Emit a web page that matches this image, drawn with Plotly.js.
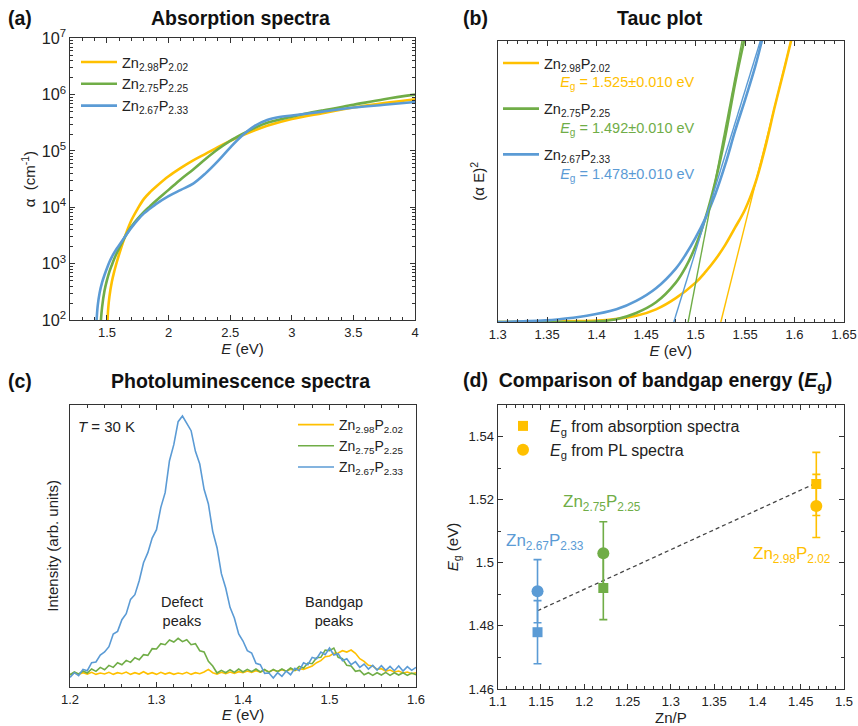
<!DOCTYPE html>
<html>
<head>
<meta charset="utf-8">
<script src="https://cdn.plot.ly/plotly-3.0.1.min.js"></script>
<style>html,body{margin:0;padding:0;background:#fff;}#chart{width:858px;height:726px;}</style>
</head>
<body>
<div id="chart"></div>
<script>
// ---------- colours / names ----------
const COLORS = ['#FFC000', '#70AD47', '#5B9BD5'];
const SAMPLES = ['Zn<sub>2.98</sub>P<sub>2.02</sub>', 'Zn<sub>2.75</sub>P<sub>2.25</sub>', 'Zn<sub>2.67</sub>P<sub>2.33</sub>'];

// ---------- (a) absorption spectra ----------
const absE_298 = [1.505,1.51,1.52,1.54,1.56,1.58,1.60,1.65,1.70,1.75,1.80,1.85,1.90,2.0,2.1,2.2,2.3,2.4,2.5,2.6,2.7,2.8,3.0,3.25,3.5,3.75,4.0];
const absA_298 = [1.0e2,1.6e2,2.6e2,4.8e2,7.4e2,1.07e3,1.5e3,3.2e3,6.0e3,9.5e3,1.41e4,1.86e4,2.34e4,3.55e4,5.0e4,6.8e4,8.9e4,1.17e5,1.51e5,1.9e5,2.34e5,2.8e5,3.7e5,4.7e5,5.9e5,7.1e5,8.3e5];
const absE_275 = [1.451,1.46,1.48,1.50,1.52,1.54,1.56,1.58,1.60,1.65,1.70,1.75,1.80,1.85,1.90,2.0,2.1,2.2,2.3,2.4,2.5,2.6,2.7,2.8,3.0,3.25,3.5,3.75,4.0];
const absA_275 = [1.0e2,1.66e2,3.3e2,5.1e2,7.2e2,9.5e2,1.23e3,1.55e3,1.9e3,3.1e3,4.6e3,6.3e3,8.3e3,1.05e4,1.32e4,2.04e4,3.16e4,4.7e4,7.2e4,1.07e5,1.51e5,2.0e5,2.57e5,3.16e5,4.07e5,5.25e5,6.6e5,8.3e5,1.0e6];
const absE_267 = [1.416,1.425,1.44,1.46,1.48,1.50,1.52,1.54,1.56,1.58,1.60,1.65,1.70,1.75,1.80,1.85,1.90,2.0,2.1,2.2,2.3,2.4,2.5,2.6,2.7,2.8,2.9,3.0,3.25,3.5,3.75,4.0];
const absA_267 = [1.0e2,1.8e2,3.0e2,4.6e2,6.3e2,8.3e2,1.07e3,1.32e3,1.58e3,1.86e3,2.14e3,3.1e3,4.4e3,6.0e3,7.8e3,9.5e3,1.15e4,1.58e4,2.04e4,2.63e4,4.0e4,6.6e4,1.15e5,1.9e5,2.8e5,3.55e5,4.0e5,4.27e5,5.0e5,5.9e5,6.6e5,7.4e5];

// ---------- (b) Tauc plot (normalised (alpha E)^2) ----------
const taucE_298 = [1.30,1.35,1.38,1.41,1.44,1.46,1.48,1.50,1.51,1.52,1.53,1.54,1.55,1.56,1.57,1.58,1.59,1.5965];
const taucY_298 = [0,0.001,0.003,0.007,0.022,0.045,0.085,0.14,0.178,0.222,0.274,0.336,0.40,0.49,0.615,0.765,0.905,1.0];
const taucE_275 = [1.30,1.38,1.40,1.42,1.44,1.46,1.48,1.49,1.50,1.51,1.52,1.53,1.54,1.549];
const taucY_275 = [0,0,0.002,0.01,0.032,0.07,0.14,0.195,0.27,0.37,0.50,0.66,0.85,1.0];
const taucE_267 = [1.30,1.33,1.36,1.39,1.42,1.44,1.46,1.48,1.49,1.50,1.51,1.52,1.53,1.54,1.55,1.56,1.567];
const taucY_267 = [0,0.003,0.009,0.022,0.045,0.075,0.12,0.19,0.24,0.30,0.37,0.455,0.56,0.68,0.79,0.905,1.0];
const fitE_298 = [1.5255, 1.5965];
const fitE_275 = [1.4925, 1.547];
const fitE_267 = [1.478, 1.5655];
const fitY = [0, 1.0];
const EG_TEXT = ['1.525±0.010 eV', '1.492±0.010 eV', '1.478±0.010 eV'];

// ---------- (c) PL spectra, T = 30 K ----------
const plE = [1.200,1.205,1.210,1.215,1.220,1.225,1.230,1.235,1.240,1.245,1.250,1.255,1.260,1.265,1.270,1.275,1.280,1.285,1.290,1.295,
             1.300,1.305,1.310,1.315,1.320,1.325,1.330,1.335,1.340,1.345,1.350,1.355,1.360,1.365,1.370,1.375,1.380,1.385,1.390,1.395,
             1.400,1.405,1.410,1.415,1.420,1.425,1.430,1.435,1.440,1.445,1.450,1.455,1.460,1.465,1.470,1.475,1.480,1.485,1.490,1.495,
             1.500,1.505,1.510,1.515,1.520,1.525,1.530,1.535,1.540,1.545,1.550,1.555,1.560,1.565,1.570,1.575,1.580,1.585,1.590,1.595,1.600];
const plI_298 = [36,41,37,42,38,43,37,41,38,43,37,42,39,44,37,42,38,45,38,42,
                 37,43,38,42,37,41,38,43,37,42,39,44,52,42,38,43,39,44,40,45,
                 42,47,43,48,44,49,45,50,46,51,47,52,48,54,52,58,62,72,78,90,
                 92,100,101,108,104,110,100,84,76,64,62,52,54,47,50,44,47,41,44,39,42];
const plI_275 = [36,44,38,47,41,53,46,58,51,64,58,72,66,79,73,87,81,96,94,114,
                 113,129,126,140,134,145,135,141,126,129,108,104,76,62,41,49,42,51,43,53,
                 44,52,45,53,44,52,43,52,45,53,46,56,49,61,56,71,69,87,88,110,
                 108,116,88,84,64,62,46,49,36,42,34,42,35,43,34,42,35,42,34,41,36];
const plI_267 = [28,42,33,52,48,72,74,95,104,120,158,166,201,219,262,276,318,372,402,446,
                 471,538,582,678,726,795,812,790,768,706,668,592,548,466,417,339,296,238,206,158,
                 137,108,101,70,66,40,41,26,42,31,47,36,55,48,72,66,88,84,104,96,
                 116,95,99,78,84,66,75,58,68,53,64,50,63,49,61,48,62,47,60,49,58];

// ---------- (d) bandgap comparison ----------
const znP = [1.146, 1.222, 1.468];          // Zn/P ratio: Zn2.67P2.33, Zn2.75P2.25, Zn2.98P2.02
const egAbs = [1.478, 1.492, 1.525];
const egPL = [1.491, 1.503, 1.518];
const egErr = [0.010, 0.010, 0.010];
const fitZnP = [1.146, 1.468];
const fitEg = [1.4848, 1.5253];
const dColors = [COLORS[2], COLORS[1], COLORS[0]];
const dLabels = [SAMPLES[2], SAMPLES[1], SAMPLES[0]];
const dLabelX = [1.155, 1.220, 1.440];
const dLabelY = [1.5065, 1.5188, 1.5025];

// ---------- build ----------
const FONT = 'Arial, "Liberation Sans", Helvetica, sans-serif';
const W = 858, H = 726;
const px = v => v / W;
const py = v => 1 - v / H;

const traces = [];
// (a)
[[absE_298, absA_298], [absE_275, absA_275], [absE_267, absA_267]].forEach((d, i) => {
  traces.push({x: d[0], y: d[1], xaxis: 'x', yaxis: 'y', type: 'scatter', mode: 'lines',
    line: {color: COLORS[i], width: 2.6, shape: 'spline', smoothing: 1}, name: SAMPLES[i], legend: 'legend'});
});
// (b)
const taucSets = [[taucE_298, taucY_298, fitE_298], [taucE_275, taucY_275, fitE_275], [taucE_267, taucY_267, fitE_267]];
taucSets.forEach((d, i) => {
  traces.push({x: d[0], y: d[1], xaxis: 'x2', yaxis: 'y2', type: 'scatter', mode: 'lines',
    line: {color: COLORS[i], width: 2.6, shape: 'spline', smoothing: 1},
    name: SAMPLES[i] + '<br><span style="color:' + COLORS[i] + '">\u00a0\u00a0\u00a0\u00a0<i>E</i><sub>g</sub> = ' + EG_TEXT[i] + '</span>',
    legend: 'legend2', legendgroup: 'b' + i});
});
taucSets.forEach((d, i) => {
  traces.push({x: d[2], y: fitY, xaxis: 'x2', yaxis: 'y2', type: 'scatter', mode: 'lines',
    line: {color: COLORS[i], width: 1.4}, showlegend: false, hoverinfo: 'skip'});
});
// (c)
[plI_298, plI_275, plI_267].forEach((d, i) => {
  traces.push({x: plE, y: d, xaxis: 'x3', yaxis: 'y3', type: 'scatter', mode: 'lines',
    line: {color: COLORS[i], width: 1.6}, name: SAMPLES[i], legend: 'legend3'});
});
// (d)
traces.push({x: fitZnP, y: fitEg, xaxis: 'x4', yaxis: 'y4', type: 'scatter', mode: 'lines',
  line: {color: '#444', width: 1.3, dash: '4px,3px'}, showlegend: false, hoverinfo: 'skip'});
[2, 1, 0].forEach(k => {
  const c = dColors[k];
  traces.push({x: [znP[k]], y: [egAbs[k]], xaxis: 'x4', yaxis: 'y4', type: 'scatter', mode: 'markers',
    marker: {symbol: 'square', size: 10, color: c},
    error_y: {type: 'data', array: [egErr[k]], color: c, thickness: 1.6, width: 4},
    name: '<i>E</i><sub>g</sub> from absorption spectra', showlegend: k === 2, legend: 'legend4'});
  traces.push({x: [znP[k]], y: [egPL[k]], xaxis: 'x4', yaxis: 'y4', type: 'scatter', mode: 'markers',
    marker: {symbol: 'circle', size: 12, color: c},
    error_y: {type: 'data', array: [egErr[k]], color: c, thickness: 1.6, width: 4},
    name: '<i>E</i><sub>g</sub> from PL spectra', showlegend: k === 2, legend: 'legend4'});
});

const axBase = {
  showline: true, linecolor: '#333', linewidth: 1.2, mirror: 'allticks',
  ticks: 'inside', ticklen: 5, tickwidth: 1, tickcolor: '#333',
  tickfont: {family: FONT, size: 13, color: '#222'},
  showgrid: false, zeroline: false, fixedrange: true,
  title: {font: {family: FONT, size: 15, color: '#222'}}
};
const ax = (o) => Object.assign({}, JSON.parse(JSON.stringify(axBase)), o, {title: Object.assign({}, axBase.title, o.title || {})});
const minor = (dt) => ({dtick: dt, ticks: 'inside', ticklen: 3, tickcolor: '#333', tickwidth: 1, showgrid: false});

const layout = {
  width: W, height: H, margin: {l: 0, r: 0, t: 0, b: 0},
  paper_bgcolor: '#fff', plot_bgcolor: '#fff',
  font: {family: FONT, color: '#222'},
  showlegend: true,
  xaxis: ax({domain: [px(70), px(415)], anchor: 'y', range: [1.2, 4], dtick: 0.5, tick0: 0, minor: minor(0.1),
    title: {text: '<i>E</i> (eV)', standoff: 1}}),
  yaxis: ax({domain: [py(320), py(38.3)], anchor: 'x', type: 'log', range: [2, 7], dtick: 1, exponentformat: 'power',
    minor: minor('D1'), title: {text: 'α  (cm<sup>-1</sup>)', standoff: 2}}),
  xaxis2: ax({domain: [px(497.7), px(844)], anchor: 'y2', range: [1.3, 1.65], dtick: 0.05, tick0: 1.3, minor: minor(0.01),
    title: {text: '<i>E</i> (eV)', standoff: 1}}),
  yaxis2: ax({domain: [py(322), py(40.7)], anchor: 'x2', range: [0, 1.0], showticklabels: false, ticks: '',
    title: {text: '(α E)<sup>2</sup>', standoff: 8}}),
  xaxis3: ax({domain: [px(70), px(416)], anchor: 'y3', range: [1.2, 1.6], dtick: 0.1, tick0: 1.2, minor: minor(0.02),
    title: {text: '<i>E</i> (eV)', standoff: 1}}),
  yaxis3: ax({domain: [py(686.7), py(405)], anchor: 'x3', range: [0, 845], showticklabels: false, ticks: '',
    title: {text: 'Intensity (arb. units)', standoff: 6}}),
  xaxis4: ax({domain: [px(497.7), px(844)], anchor: 'y4', range: [1.1, 1.5], dtick: 0.05, tick0: 1.1, minor: minor(0.01),
    title: {text: 'Zn/P', standoff: 1}}),
  yaxis4: ax({domain: [py(689), py(405)], anchor: 'x4', range: [1.46, 1.55], dtick: 0.02, tick0: 1.46, minor: minor(0.01),
    title: {text: '<i>E</i><sub>g</sub> (eV)', standoff: 6}}),
  legend: {x: px(76), y: py(46), xanchor: 'left', yanchor: 'top', bgcolor: 'rgba(0,0,0,0)',
    font: {family: FONT, size: 14.5, color: '#222'}, itemwidth: 36, tracegroupgap: 0},
  legend2: {x: px(498), y: py(47), xanchor: 'left', yanchor: 'top', bgcolor: 'rgba(0,0,0,0)', valign: 'top',
    font: {family: FONT, size: 14.5, color: '#222'}, itemwidth: 36, tracegroupgap: 5},
  legend3: {x: px(409), y: py(409), xanchor: 'right', yanchor: 'top', bgcolor: 'rgba(0,0,0,0)',
    font: {family: FONT, size: 14, color: '#222'}, itemwidth: 36, tracegroupgap: 0},
  legend4: {x: px(496), y: py(409), xanchor: 'left', yanchor: 'top', bgcolor: 'rgba(0,0,0,0)',
    font: {family: FONT, size: 16, color: '#222'}, itemwidth: 44, tracegroupgap: 0},
  annotations: []
};

const A = layout.annotations;
const titleFont = {family: FONT, size: 19.5, color: '#111'};
A.push({xref: 'paper', yref: 'paper', x: px(6), y: py(18), xanchor: 'left', yanchor: 'middle', showarrow: false, text: '<b>(a)</b>', font: titleFont});
A.push({xref: 'paper', yref: 'paper', x: px(240), y: py(18), xanchor: 'center', yanchor: 'middle', showarrow: false, text: '<b>Absorption spectra</b>', font: titleFont});
A.push({xref: 'paper', yref: 'paper', x: px(461), y: py(18), xanchor: 'left', yanchor: 'middle', showarrow: false, text: '<b>(b)</b>', font: titleFont});
A.push({xref: 'paper', yref: 'paper', x: px(660), y: py(18), xanchor: 'center', yanchor: 'middle', showarrow: false, text: '<b>Tauc plot</b>', font: titleFont});
A.push({xref: 'paper', yref: 'paper', x: px(6), y: py(381), xanchor: 'left', yanchor: 'middle', showarrow: false, text: '<b>(c)</b>', font: titleFont});
A.push({xref: 'paper', yref: 'paper', x: px(240), y: py(381), xanchor: 'center', yanchor: 'middle', showarrow: false, text: '<b>Photoluminescence spectra</b>', font: titleFont});
A.push({xref: 'paper', yref: 'paper', x: px(461), y: py(381), xanchor: 'left', yanchor: 'middle', showarrow: false,
  text: '<b>(d)\u00a0\u00a0Comparison of bandgap energy (<i>E</i><sub>g</sub>)</b>', font: titleFont});
// (c) notes
A.push({xref: 'x3', yref: 'y3', x: 1.207, y: 782, xanchor: 'left', yanchor: 'middle', showarrow: false, text: '<i>T</i> = 30 K', font: {family: FONT, size: 15, color: '#222'}});
A.push({xref: 'x3', yref: 'y3', x: 1.33, y: 225, xanchor: 'center', yanchor: 'middle', showarrow: false, text: 'Defect<br>peaks', font: {family: FONT, size: 14.5, color: '#222'}});
A.push({xref: 'x3', yref: 'y3', x: 1.505, y: 225, xanchor: 'center', yanchor: 'middle', showarrow: false, text: 'Bandgap<br>peaks', font: {family: FONT, size: 14.5, color: '#222'}});
// (d) sample labels
for (let k = 0; k < 3; k++) {
  A.push({xref: 'x4', yref: 'y4', x: dLabelX[k], y: dLabelY[k], xanchor: 'center', yanchor: 'middle', showarrow: false,
    text: dLabels[k], font: {family: FONT, size: 17, color: dColors[k]}});
}

Plotly.newPlot('chart', traces, layout, {displayModeBar: false, staticPlot: true});
</script>
</body>
</html>
